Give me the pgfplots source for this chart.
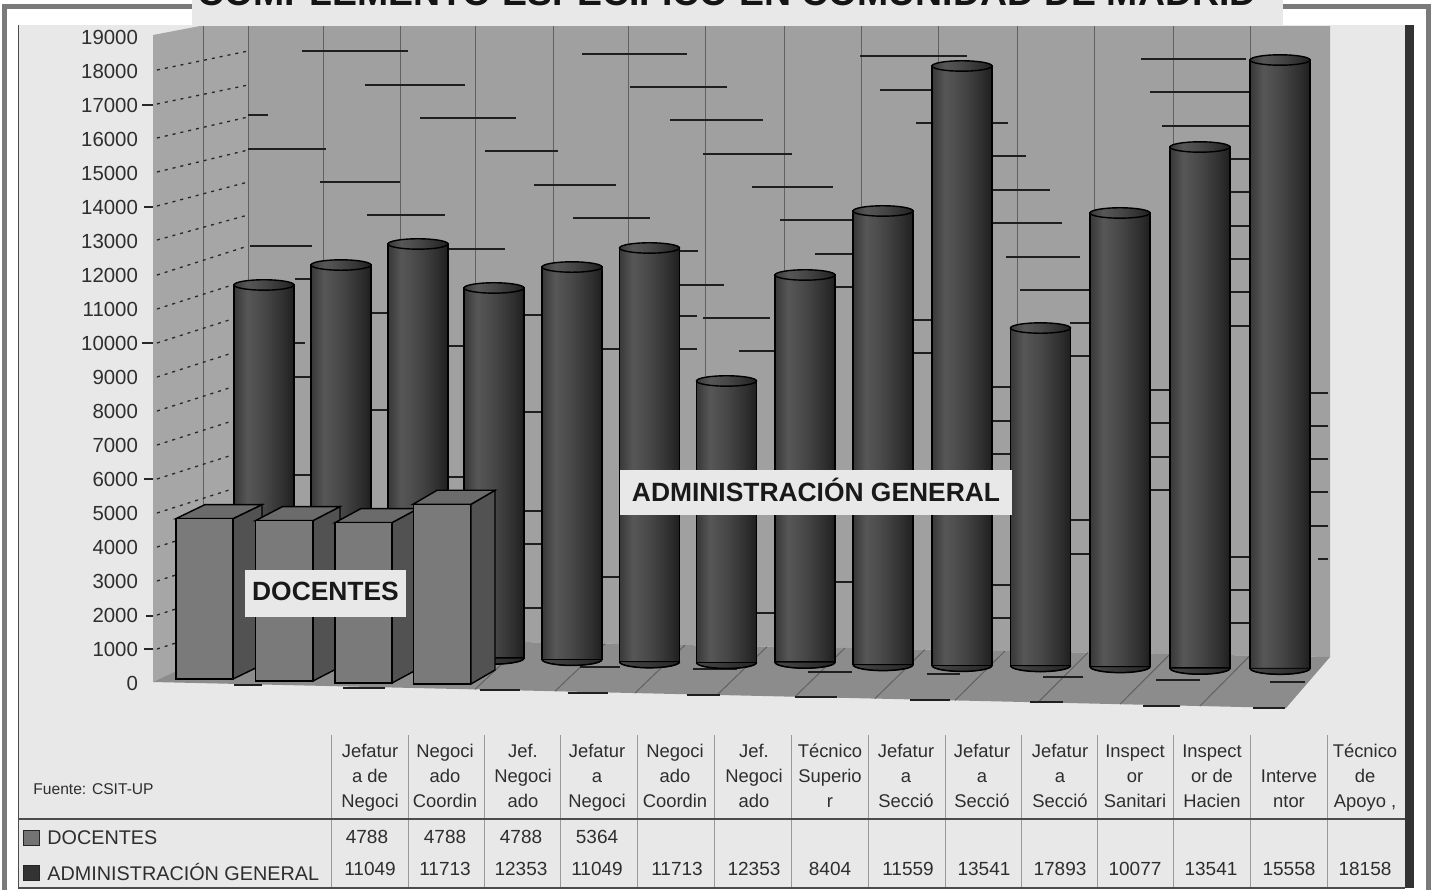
\documentclass[border=0pt]{standalone}
\usepackage{fontspec}
\setmainfont{Liberation Sans}
\usepackage{pgfplots}
\usepackage{pgfplotstable}
\pgfplotsset{compat=1.18}

\definecolor{panel}{HTML}{E8E8E8}
\definecolor{wall}{HTML}{A0A0A0}
\definecolor{sidewall}{HTML}{A6A6A6}
\definecolor{floorc}{HTML}{8C8C8C}
\definecolor{ink}{HTML}{2E2E2E}
\pgfdeclarehorizontalshading{cyl}{100bp}{color(0bp)=(black!78);color(25bp)=(black!78);color(36bp)=(black!66);color(50bp)=(black!72);color(67bp)=(black!82);color(75bp)=(black!88);color(100bp)=(black!88)}

% 1 px of the reference = 0.5pt here
\pgfdeclareplotmark{cyltop}{%
  \path[fill=black!76,draw=black,line width=.7pt] (0pt,0pt) ellipse (15pt and 2.6pt);}
\pgfdeclareplotmark{cylbottom}{%
  \path[left color=black!72,right color=black!85] (-15pt,0pt) arc (180:360:15pt and 3pt) -- cycle;
  \path[draw=black,line width=.75pt] (-15pt,0pt) arc (180:360:15pt and 3pt);}

\pgfplotsset{
  canvas/.style={scale only axis,width=716.5pt,height=445pt,clip=false,xmin=0,xmax=1433},
  % axis in reference pixels, for the frame, walls and table
  px/.style={canvas,ymin=0,ymax=890,y dir=reverse},
  % value axis of the bars: pixel row = 700 - 0.0335*value
  val/.style={canvas,hide axis,ymin=-5671.6,ymax=20895.5},
}

% one cylinder: x, value, lift of its foot on the perspective floor (pt)
\newcommand{\cyl}[3]{%
  \addplot[ybar,shade,shading=cyl,draw=black,line width=.75pt,mark=cyltop,yshift=#3pt] coordinates {(#1,#2)};
  \addplot[only marks,mark=cylbottom,yshift=#3pt] coordinates {(#1,0)};
}

\pgfplotstableread{
x base docentes
204.5 627 4788
284.25 567 4788
363.5 507 4788
442 478 5364
}\doctable

\newcommand{\cell}[3]{\node[font=\fontsize{9.5}{12}\selectfont,text=ink] at (axis cs:#1,#2) {#3};}

\begin{document}
\begin{tikzpicture}
\path[use as bounding box] (0,0) rectangle (716.5pt,445pt);
\clip (0,0) rectangle (716.5pt,445pt);

\begin{axis}[px,hide axis]
% frame and panel
\addplot[fill=white,draw=none] coordinates {(0,0)(1433,0)(1433,890)(0,890)} --cycle;
\addplot[fill=black!52,draw=none] coordinates {(2,4)(1431,4)(1431,890)(2,890)} --cycle;
\addplot[fill=white,draw=none] coordinates {(7,9)(1426,9)(1426,890)(7,890)} --cycle;
\addplot[fill=panel,draw=none] coordinates {(18,25)(1405,25)(1405,888)(18,888)} --cycle;
\addplot[fill=black!80,draw=none] coordinates {(1405,25)(1414,25)(1414,888)(1405,888)} --cycle;
\addplot[black!70,line width=.6pt] coordinates {(18.5,25)(18.5,888)(1405,888)};
% walls and floor
\addplot[fill=sidewall,draw=none] coordinates {(153,35)(200,26)(248,26)(248,637)(153,682)} --cycle;
\addplot[fill=wall,draw=none] coordinates {(248,26)(1330,26)(1330,657)(248,637)} --cycle;
\addplot[fill=floorc,draw=none] coordinates {(153,682)(248,637)(1330,657)(1286,708)} --cycle;
% wall grid
\addplot[black!62,line width=.5pt,unbounded coords=jump] coordinates {
(203,26)(203,660)(nan,nan)
(248,26)(248,637)(nan,nan)
(323,26)(323,638)(nan,nan)
(400,26)(400,640)(nan,nan)
(475,26)(475,641)(nan,nan)
(553,26)(553,643)(nan,nan)
(628,26)(628,644)(nan,nan)
(705,26)(705,646)(nan,nan)
(784,26)(784,647)(nan,nan)
(861,26)(861,649)(nan,nan)
(938,26)(938,650)(nan,nan)
(1017,26)(1017,652)(nan,nan)
(1094,26)(1094,653)(nan,nan)
(1173,26)(1173,654)(nan,nan)
(1250,26)(1250,656)(nan,nan)
};
% floor grid
\addplot[black!62,line width=.5pt,unbounded coords=jump] coordinates {
(475,689.4)(525,642.1)(nan,nan)
(555,691.2)(605,643.6)(nan,nan)
(635,693)(685,645.1)(nan,nan)
(717,695)(767,646.7)(nan,nan)
(795,696.7)(845,648)(nan,nan)
(875,698.6)(925,649.5)(nan,nan)
(955,700.4)(1005,651)(nan,nan)
(1038,702.3)(1088,652.5)(nan,nan)
(1120,704.2)(1170,654)(nan,nan)
(1200,706)(1250,655.5)(nan,nan)
};
% dotted lines of the left wall
\addplot[black!85,line width=.65pt,dash pattern=on 1.5pt off 2.5pt,unbounded coords=jump] coordinates {
(157,70)(248,51)(nan,nan)
(157,104)(248,85)(nan,nan)
(157,138)(248,117)(nan,nan)
(157,172)(248,150)(nan,nan)
(157,206)(248,182)(nan,nan)
(157,240)(248,215)(nan,nan)
(157,275)(248,246)(nan,nan)
(157,309)(248,280)(nan,nan)
(157,343)(248,314)(nan,nan)
(157,377)(248,348)(nan,nan)
(157,411)(248,382)(nan,nan)
(157,445)(248,416)(nan,nan)
(157,479)(248,450)(nan,nan)
(157,513)(248,484)(nan,nan)
(157,547)(248,518)(nan,nan)
(157,581)(248,552)(nan,nan)
(157,615)(248,586)(nan,nan)
(157,649)(248,620)(nan,nan)
};
% short ticks left of the wall
\addplot[black!85,line width=.6pt,unbounded coords=jump] coordinates {
(142,105)(153,105)(nan,nan)
(144,207)(153,207)(nan,nan)
(142,343)(153,343)(nan,nan)
(144,479)(153,479)(nan,nan)
(146,616)(153,616)(nan,nan)
(144,649)(153,649)(nan,nan)
};
% broken grid dashes of the back wall
\addplot[black!88,line width=.55pt,unbounded coords=jump] coordinates {
(302,51)(408,51)(nan,nan)
(365,85)(465,85)(nan,nan)
(420,118)(516,118)(nan,nan)
(248,115)(268,115)(nan,nan)
(248,149)(326,149)(nan,nan)
(320,182)(400,182)(nan,nan)
(367,215)(445,215)(nan,nan)
(250,246)(312,246)(nan,nan)
(449,249)(505,249)(nan,nan)
(485,151)(558,151)(nan,nan)
(534,185)(616,185)(nan,nan)
(573,218)(650,218)(nan,nan)
(582,54)(687,54)(nan,nan)
(630,87)(727,87)(nan,nan)
(670,120)(763,120)(nan,nan)
(703,154)(792,154)(nan,nan)
(752,187)(833,187)(nan,nan)
(780,220)(853,220)(nan,nan)
(815,254)(853,254)(nan,nan)
(835,287)(853,287)(nan,nan)
(860,56)(967,56)(nan,nan)
(880,90)(932,90)(nan,nan)
(916,123)(932,123)(nan,nan)
(680,251)(698,251)(nan,nan)
(680,285)(724,285)(nan,nan)
(703,318)(770,318)(nan,nan)
(739,351)(775,351)(nan,nan)
(525,315)(541,315)(nan,nan)
(603,349)(619,349)(nan,nan)
(295,279)(310,279)(nan,nan)
(372,313)(387,313)(nan,nan)
(295,343)(305,343)(nan,nan)
(449,346)(463,346)(nan,nan)
(913,320)(932,320)(nan,nan)
(913,353)(932,353)(nan,nan)
(992,123)(1008,123)(nan,nan)
(992,156)(1026,156)(nan,nan)
(992,190)(1050,190)(nan,nan)
(992,223)(1062,223)(nan,nan)
(1006,257)(1080,257)(nan,nan)
(1020,290)(1090,290)(nan,nan)
(1070,323)(1090,323)(nan,nan)
(1070,356)(1090,356)(nan,nan)
(1141,59)(1246,59)(nan,nan)
(1150,92)(1250,92)(nan,nan)
(1162,126)(1250,126)(nan,nan)
(1230,159)(1250,159)(nan,nan)
(1230,192)(1250,192)(nan,nan)
(1230,226)(1250,226)(nan,nan)
(1230,259)(1250,259)(nan,nan)
(1230,292)(1250,292)(nan,nan)
(1230,326)(1250,326)(nan,nan)
(992,387)(1011,387)(nan,nan)
(992,421)(1011,421)(nan,nan)
(992,454)(1011,454)(nan,nan)
(1068,520)(1090,520)(nan,nan)
(1068,554)(1090,554)(nan,nan)
(1150,390)(1170,390)(nan,nan)
(1150,423)(1170,423)(nan,nan)
(1150,457)(1170,457)(nan,nan)
(1150,490)(1170,490)(nan,nan)
(1230,557)(1250,557)(nan,nan)
(1230,590)(1250,590)(nan,nan)
(1230,623)(1250,623)(nan,nan)
(1310,393)(1328,393)(nan,nan)
(1310,426)(1328,426)(nan,nan)
(1310,459)(1328,459)(nan,nan)
(1310,492)(1328,492)(nan,nan)
(1310,526)(1328,526)(nan,nan)
(1318,559)(1328,559)(nan,nan)
(990,585)(1010,585)(nan,nan)
(990,618)(1010,618)(nan,nan)
(295,377)(312,377)(nan,nan)
(372,410)(387,410)(nan,nan)
(295,475)(312,475)(nan,nan)
(449,477)(463,477)(nan,nan)
(525,412)(541,412)(nan,nan)
(525,511)(541,511)(nan,nan)
(525,544)(541,544)(nan,nan)
(525,608)(541,608)(nan,nan)
(603,577)(619,577)(nan,nan)
(757,613)(775,613)(nan,nan)
(836,582)(853,582)(nan,nan)
(680,316)(697,316)(nan,nan)
(680,349)(697,349)(nan,nan)
};
% dashes on the floor
\addplot[black!88,line width=.7pt,unbounded coords=jump] coordinates {
(580,667)(620,667)(nan,nan)
(568,693)(608,693)(nan,nan)
(687,695)(720,695)(nan,nan)
(693,669)(737,669)(nan,nan)
(808,672)(852,672)(nan,nan)
(795,697)(837,697)(nan,nan)
(927,674)(960,674)(nan,nan)
(910,700)(950,700)(nan,nan)
(1043,677)(1083,677)(nan,nan)
(1030,702)(1063,702)(nan,nan)
(1156,680)(1200,680)(nan,nan)
(1143,706)(1180,706)(nan,nan)
(1270,682)(1305,682)(nan,nan)
(1253,708)(1285,708)(nan,nan)
(480,690)(520,690)(nan,nan)
(234,685)(262,685)(nan,nan)
(343,688)(385,688)(nan,nan)
};
% table rules
\addplot[black!40,line width=.5pt,unbounded coords=jump] coordinates {
(331,735)(331,887)(nan,nan)
(408,735)(408,887)(nan,nan)
(484,735)(484,887)(nan,nan)
(560,735)(560,887)(nan,nan)
(637,735)(637,887)(nan,nan)
(714,735)(714,887)(nan,nan)
(791,735)(791,887)(nan,nan)
(868,735)(868,887)(nan,nan)
(945,735)(945,887)(nan,nan)
(1021,735)(1021,887)(nan,nan)
(1097,735)(1097,887)(nan,nan)
(1173,735)(1173,887)(nan,nan)
(1250,735)(1250,887)(nan,nan)
(1327,735)(1327,887)(nan,nan)
};
\addplot[black!70,line width=1pt] coordinates {(18,819)(1405,819)};
\addplot[fill=black!55,draw=black!85,line width=.5pt] coordinates {(23,830)(39,830)(39,845)(23,845)} --cycle;
\addplot[fill=black!80,draw=black!85,line width=.5pt] coordinates {(23,865)(39,865)(39,880)(23,880)} --cycle;
\node[font=\fontsize{7.8}{9}\selectfont,anchor=west,text=ink,inner sep=0pt] at (axis cs:33,789) {Fuente: CSIT-UP};
\node[font=\fontsize{9.9}{12}\selectfont,anchor=west,text=ink,inner sep=0pt] at (axis cs:47,838) {DOCENTES};
\node[font=\fontsize{9.9}{12}\selectfont,anchor=west,text=ink,inner sep=0pt] at (axis cs:47,872) {ADMINISTRACIÓN GENERAL};
\cell{367}{837}{4788}\cell{445}{837}{4788}\cell{521}{837}{4788}\cell{597}{837}{5364}
\cell{370}{869}{11049}\cell{445}{869}{11713}\cell{521}{869}{12353}\cell{597}{869}{11049}
\cell{677}{869}{11713}\cell{754}{869}{12353}\cell{830}{869}{8404}\cell{908}{869}{11559}
\cell{984}{869}{13541}\cell{1060}{869}{17893}\cell{1135}{869}{10077}\cell{1211}{869}{13541}
\cell{1289}{869}{15558}\cell{1365}{869}{18158}
\end{axis}

% tick labels: the value scale on the left, the categories above the table
\begin{axis}[px,
    axis line style={draw=none},
    tick style={draw=none},
    major tick length=0pt,
    ytick={683,649,615,581,547,513,479,445,411,377,343,309,275,241,207,173,139,105,71,37},
    yticklabels={0,1000,2000,3000,4000,5000,6000,7000,8000,9000,10000,11000,12000,13000,14000,15000,16000,17000,18000,19000},
    yticklabel style={font=\fontsize{10.2}{12}\selectfont,text=ink,anchor=east,xshift=72.5pt},
    xtick={370,445,523,597,675,754,830,906,982,1060,1135,1212,1289,1365},
    xticklabels={{Jefatur\\a de\\Negoci},{Negoci\\ado\\Coordin},{Jef.\\Negoci\\ado},{Jefatur\\a\\Negoci},{Negoci\\ado\\Coordin},{Jef.\\Negoci\\ado},{Técnico\\Superio\\r},{Jefatur\\a\\Secció},{Jefatur\\a\\Secció},{Jefatur\\a\\Secció},{Inspect\\or\\Sanitari},{Inspect\\or de\\Hacien},{Interve\\ntor},{Técnico\\de\\Apoyo ,}},
    xticklabel style={font=\fontsize{9.2}{12.7}\selectfont,text=ink,align=center,anchor=south,text depth=2.5pt,yshift=35pt},
  ]
\end{axis}

% ADMINISTRACIÓN GENERAL, cylinders
\begin{axis}[val,bar width=30pt,/pgf/bar shift=0pt]
\cyl{264}{11049}{22.45}
\cyl{341}{11713}{21.3}
\cyl{418}{12353}{21.1}
\cyl{494}{11049}{20.95}
\cyl{572}{11713}{20.3}
\cyl{649.5}{12353}{19.1}
\cyl{726.5}{8404}{18.75}
\cyl{805}{11559}{18.9}
\cyl{883}{13541}{17.7}
\cyl{962}{17893}{17.3}
\cyl{1040.5}{10077}{17.2}
\cyl{1120}{13541}{16.7}
\cyl{1200}{15558}{15.9}
\cyl{1280}{18158}{15.85}
\end{axis}

% DOCENTES, depth faces of the boxes
\begin{axis}[val]
\addplot[fill=black!68,draw=black,line width=.7pt] coordinates {(233,627)(233,5415)(262,5833)(262,1045)} --cycle;
\addplot[fill=black!58,draw=black,line width=.7pt] coordinates {(176,5415)(233,5415)(262,5833)(205,5833)} --cycle;
\addplot[fill=black!68,draw=black,line width=.7pt] coordinates {(313,567)(313,5355)(340,5773)(340,985)} --cycle;
\addplot[fill=black!58,draw=black,line width=.7pt] coordinates {(255.5,5355)(313,5355)(340,5773)(282.5,5773)} --cycle;
\addplot[fill=black!68,draw=black,line width=.7pt] coordinates {(392,507)(392,5295)(418,5713)(418,925)} --cycle;
\addplot[fill=black!58,draw=black,line width=.7pt] coordinates {(335,5295)(392,5295)(418,5713)(361,5713)} --cycle;
\addplot[fill=black!68,draw=black,line width=.7pt] coordinates {(471,478)(471,5842)(495,6260)(495,896)} --cycle;
\addplot[fill=black!58,draw=black,line width=.7pt] coordinates {(413,5842)(471,5842)(495,6260)(437,6260)} --cycle;
\end{axis}

% DOCENTES, front faces
\begin{axis}[val,stack plots=y,ybar,bar width=28.7pt,/pgf/bar shift=0pt]
\addplot[draw=none,fill=none] table[x=x,y=base] {\doctable};
\addplot[fill=black!52,draw=black,line width=.75pt] table[x=x,y=docentes] {\doctable};
\end{axis}

% title and text boxes
\begin{axis}[px,hide axis]
\addplot[fill=panel,draw=none] coordinates {(192,-2)(1283,-2)(1283,26)(192,26)} --cycle;
\addplot[fill=panel,draw=none] coordinates {(245,570)(406,570)(406,617)(245,617)} --cycle;
\addplot[fill=panel,draw=none] coordinates {(620,470)(1012,470)(1012,515)(620,515)} --cycle;
\node[anchor=base,font=\fontsize{18.7}{20}\selectfont\bfseries,text=black!92] at (axis cs:727,5) {COMPLEMENTO ESPECÍFICO EN COMUNIDAD DE MADRID};
\node[font=\fontsize{13.2}{15}\selectfont\bfseries,text=black!90] at (axis cs:325.5,591) {DOCENTES};
\node[font=\fontsize{13.2}{15}\selectfont\bfseries,text=black!90] at (axis cs:816,490) {ADMINISTRACIÓN GENERAL};
\end{axis}
\end{tikzpicture}
\end{document}
